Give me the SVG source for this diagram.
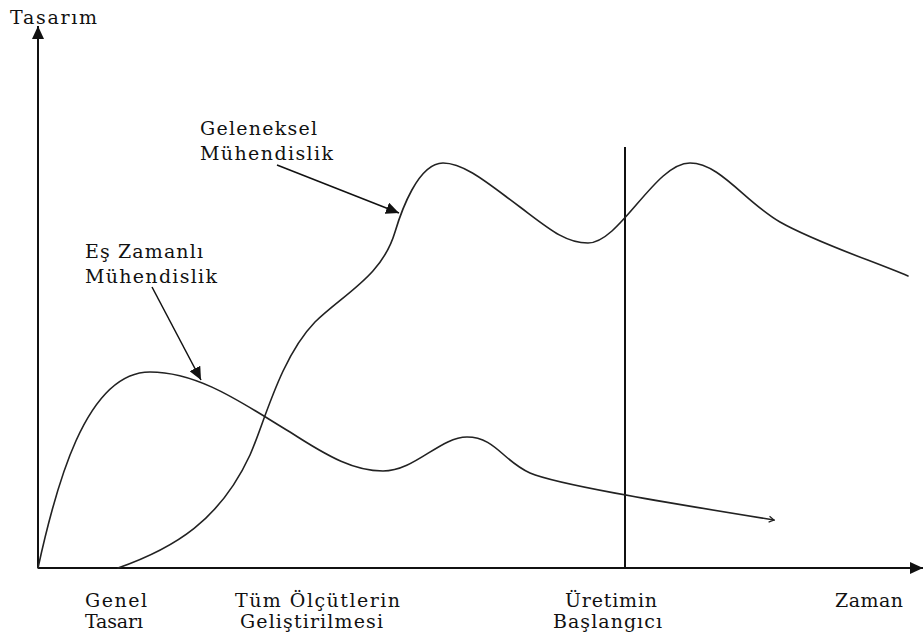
<svg xmlns="http://www.w3.org/2000/svg" width="924" height="637" viewBox="0 0 924 637">
  <style>
    .axis { stroke: #111; stroke-width: 2; fill: none; }
    .curve { stroke: #222; stroke-width: 1.6; fill: none; stroke-linecap: round; }
    .pointer { stroke: #111; stroke-width: 1.5; fill: none; }
    .label { font-family: "DejaVu Serif", "Liberation Serif", serif; font-size: 19px; fill: #111; }
  </style>
  <defs>
    <marker id="solidHead" markerUnits="userSpaceOnUse" markerWidth="14" markerHeight="12" refX="13" refY="6" orient="auto">
      <path d="M0,0 L13,6 L0,12 Z" fill="#111"/>
    </marker>
    <marker id="openHead" markerUnits="userSpaceOnUse" markerWidth="8" markerHeight="8" refX="6" refY="4" orient="auto">
      <path d="M1,1 L6,4 L1,7" fill="none" stroke="#222" stroke-width="1.2"/>
    </marker>
  </defs>

  <rect width="924" height="637" fill="#fff"/>

  <!-- axes and production-start marker -->
  <g id="axes">
    <line class="axis" x1="38" y1="568" x2="38" y2="26" marker-end="url(#solidHead)"/>
    <line class="axis" x1="38" y1="568" x2="923" y2="568" marker-end="url(#solidHead)"/>
    <line class="axis" x1="625" y1="147" x2="625" y2="568" stroke-width="1.6"/>
  </g>

  <!-- curves and pointer arrows -->
  <g id="connectors">
    <path id="es-zamanli-curve" class="curve" marker-end="url(#openHead)"
          d="M38,568 C55,490 85,372 150,372 C200,372 245,405 290,432 C330,458 355,471 383,471 C415,471 440,437 467,437 C495,437 503,461 530,473 C556,484 650,500 774,520"/>
    <path id="geleneksel-curve" class="curve"
          d="M118,568 C175,548 220,520 250,455 C264,424 280,358 315,322 C345,293 382,276 395,232 C401,212 418,163 443,163 C465,163 490,185 520,207 C548,228 565,243 588,243 C620,243 655,163 690,163 C720,163 745,202 780,222 C815,242 870,260 908,276"/>
    <line class="pointer" x1="277" y1="165" x2="399" y2="213" marker-end="url(#solidHead)"/>
    <line class="pointer" x1="152" y1="287" x2="201" y2="380" marker-end="url(#solidHead)"/>
  </g>

  <g id="y-label">
    <text class="label" x="10" y="24" textLength="87" lengthAdjust="spacing">Tasarım</text>
  </g>
  <g id="geleneksel-label">
    <text class="label" x="200" y="135" textLength="117" lengthAdjust="spacing">Geleneksel</text>
    <text class="label" x="200" y="160" textLength="133" lengthAdjust="spacing">Mühendislik</text>
  </g>
  <g id="es-zamanli-label">
    <text class="label" x="85" y="258" textLength="118" lengthAdjust="spacing">Eş Zamanlı</text>
    <text class="label" x="85" y="283" textLength="132" lengthAdjust="spacing">Mühendislik</text>
  </g>
  <g id="genel-tasari">
    <text class="label" x="85" y="607" textLength="62" lengthAdjust="spacing">Genel</text>
    <text class="label" x="85" y="628" textLength="58" lengthAdjust="spacing">Tasarı</text>
  </g>
  <g id="olcutler">
    <text class="label" x="235" y="607" textLength="165" lengthAdjust="spacing">Tüm Ölçütlerin</text>
    <text class="label" x="240" y="628" textLength="143" lengthAdjust="spacing">Geliştirilmesi</text>
  </g>
  <g id="uretim">
    <text class="label" x="565" y="607" textLength="92" lengthAdjust="spacing">Üretimin</text>
    <text class="label" x="553" y="628" textLength="109" lengthAdjust="spacing">Başlangıcı</text>
  </g>
  <g id="x-label">
    <text class="label" x="835" y="607" textLength="68" lengthAdjust="spacing">Zaman</text>
  </g>
</svg>
